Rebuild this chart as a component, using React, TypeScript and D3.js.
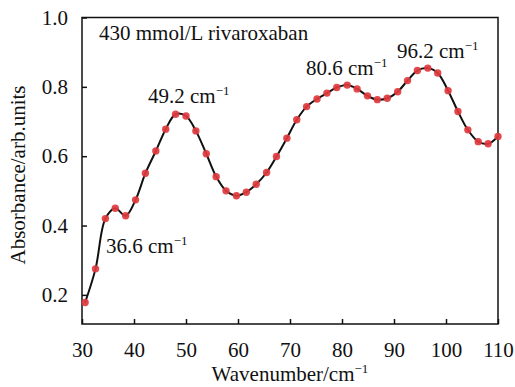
import React, { useRef, useEffect } from 'react';
import { select, line, curveCatmullRom, scaleLinear, axisBottom, axisLeft } from 'd3';

const wavenumbers = [
    30.6, 32.6, 34.5, 36.4, 38.4, 40.3, 42.2, 44.2, 46.1, 48.0, 50.0, 51.9, 53.9, 55.8,
    57.7, 59.7, 61.6, 63.5, 65.5, 67.4, 69.4, 71.3, 73.2, 75.2, 77.1, 79.0, 81.0, 82.9,
    84.9, 86.8, 88.7, 90.7, 92.6, 94.5, 96.5, 98.4, 100.4, 102.3, 104.2, 106.2, 108.1, 110.0,
];
const absorbance = [
    0.178, 0.275, 0.42, 0.45, 0.428, 0.474, 0.551, 0.615, 0.678, 0.721, 0.716, 0.673, 0.607, 0.541,
    0.5, 0.486, 0.496, 0.519, 0.553, 0.599, 0.652, 0.705, 0.743, 0.765, 0.782, 0.798, 0.805, 0.794,
    0.774, 0.763, 0.767, 0.786, 0.818, 0.847, 0.854, 0.84, 0.789, 0.729, 0.676, 0.642, 0.636, 0.657,
];
const xTicks = [30, 40, 50, 60, 70, 80, 90, 100, 110];
const yTicks = [0.2, 0.4, 0.6, 0.8, 1.0];
const peakLabels = [
    { text: '36.6', x: 106, y: 253 },
    { text: '49.2', x: 148, y: 103 },
    { text: '80.6', x: 306, y: 75 },
    { text: '96.2', x: 397, y: 58 },
];

const FONT = 'Liberation Serif, Tinos, Times New Roman, DejaVu Serif, serif';
const FS = '21px';

export default function App() {
    const svgRef: { current: SVGSVGElement | null } = useRef(null);

    useEffect(() => {
        const svg = select(svgRef.current);
        svg.selectAll('*').remove();

        const left = 82, right = 498, top = 17.5, bottom = 324;
        const x: any = scaleLinear().domain([30, 110]).range([left, right]);
        const y: any = scaleLinear().domain([0.116, 1.0]).range([bottom, top]);

        // frame
        svg.append('rect')
            .attr('x', left).attr('y', top)
            .attr('width', right - left).attr('height', bottom - top)
            .attr('fill', 'none').attr('stroke', '#111').attr('stroke-width', 1.5);

        const xAxis: any = axisBottom(x).tickValues(xTicks).tickSizeInner(-5).tickSizeOuter(0).tickPadding(18);
        const gx = svg.append('g').attr('transform', `translate(0,${bottom})`).call(xAxis);
        gx.select('.domain').remove();
        gx.attr('font-family', null).attr('font-size', null);
        gx.selectAll('line').attr('stroke', '#111').attr('stroke-width', 1.5);
        gx.selectAll('text').style('font-family', FONT).style('font-size', FS).attr('fill', '#111').attr('dy', '0.71em');

        const yAxis: any = axisLeft(y).tickValues(yTicks).tickFormat((d: any) => d.toFixed(1)).tickSizeInner(-5).tickSizeOuter(0).tickPadding(14);
        const gy = svg.append('g').attr('transform', `translate(${left},0)`).call(yAxis);
        gy.select('.domain').remove();
        gy.attr('font-family', null).attr('font-size', null);
        gy.selectAll('line').attr('stroke', '#111').attr('stroke-width', 1.5);
        gy.selectAll('text').style('font-family', FONT).style('font-size', FS).attr('fill', '#111');

        const pts: [number, number][] = wavenumbers.map((w, i) => [w, absorbance[i]]);
        const path: any = line()
            .x((d: any) => x(d[0]))
            .y((d: any) => y(d[1]))
            .curve(curveCatmullRom.alpha(0.5));

        svg.append('path')
            .datum(pts)
            .attr('d', path)
            .attr('fill', 'none')
            .attr('stroke', '#111')
            .attr('stroke-width', 2);

        svg.append('g')
            .selectAll('circle')
            .data(pts)
            .join('circle')
            .attr('cx', (d) => x(d[0]))
            .attr('cy', (d) => y(d[1]))
            .attr('r', 3.7)
            .attr('fill', '#e0393e')
            .attr('fill-opacity', 0.92);

        const addText = (tx: number, ty: number) =>
            svg.append('text')
                .attr('x', tx).attr('y', ty)
                .style('font-family', FONT).style('font-size', FS)
                .attr('fill', '#111');

        const addSup = (t: any) => {
            t.append('tspan').style('font-size', '13px').attr('dy', -8).text('\u22121');
        };

        peakLabels.forEach((p) => {
            const t = addText(p.x, p.y);
            t.append('tspan').text(p.text + ' cm');
            addSup(t);
        });

        addText(99, 40).text('430 mmol/L rivaroxaban');

        const xt = addText((left + right) / 2, 381).attr('text-anchor', 'middle');
        xt.append('tspan').text('Wavenumber/cm');
        addSup(xt);

        addText(0, 0)
            .attr('transform', `translate(25,175) rotate(-90)`)
            .attr('text-anchor', 'middle')
            .text('Absorbance/arb.units');
    }, []);

    return (
        <svg
            ref={svgRef}
            width={515}
            height={387}
            style={{ position: 'absolute', left: 0, top: 0, background: '#fff' }}
        />
    );
}
